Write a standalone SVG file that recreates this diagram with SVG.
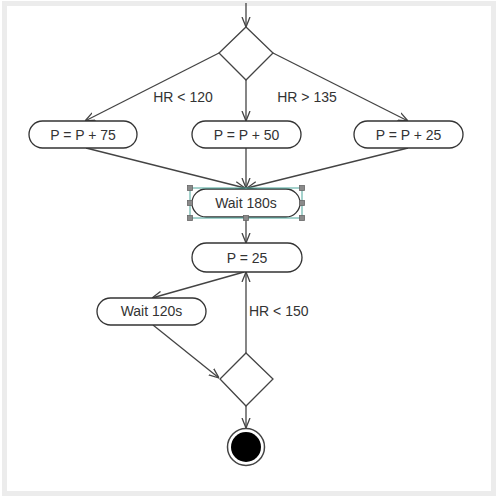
<svg xmlns="http://www.w3.org/2000/svg" width="500" height="500" viewBox="0 0 500 500">
<defs>
<style>
.box{fill:#fff;stroke:#333;stroke-width:1.3}
.dia{fill:#fff;stroke:#444;stroke-width:1.3}
.lbl{font-family:"Liberation Sans",Arial,sans-serif;font-size:14px;fill:#333;text-anchor:middle}
.edge{fill:none;stroke:#444;stroke-width:1.3;marker-end:url(#arr)}
.h{fill:#8a8a8a;stroke:#666;stroke-width:0.8}
</style>
<marker id="arr" viewBox="0 0 10 10" refX="10" refY="5" markerWidth="10" markerHeight="10" markerUnits="userSpaceOnUse" orient="auto">
<path d="M0,1 L10,5 L0,9" fill="none" stroke="#444" stroke-width="1.3"/>
</marker>
</defs>
<rect x="0" y="0" width="500" height="500" fill="#fff"/>
<rect x="4.5" y="3.5" width="489" height="490" fill="#fff" stroke="#ececec" stroke-width="5"/>

<g id="connectors">
<path class="edge" d="M246,3 L246,27"/>
<path class="edge" d="M219,53 L85,121"/>
<path class="edge" d="M246,80 L246,121"/>
<path class="edge" d="M273,53 L408,121"/>
<path class="edge" d="M86,148 L245,188"/>
<path class="edge" d="M246,148 L246,188"/>
<path class="edge" d="M408,148 L247,188"/>
<path class="edge" d="M246,218 L246,243"/>
<path class="edge" d="M244,272 L152,298"/>
<path class="edge" d="M153,325 L219,378"/>
<path class="edge" d="M246,353 L246,272"/>
<path class="edge" d="M246,406 L246,428"/>
<text class="lbl" x="183" y="102">HR &lt; 120</text>
<text class="lbl" x="307" y="102">HR &gt; 135</text>
<text class="lbl" x="249" y="316" style="text-anchor:start">HR &lt; 150</text>
</g>

<g id="decision1">
<polygon class="dia" points="246,27 273,53 246,80 219,53"/>
</g>
<g id="p75">
<rect class="box" x="29" y="121" width="108" height="27" rx="13.5"/>
<text class="lbl" x="83" y="139.5">P = P + 75</text>
</g>
<g id="p50">
<rect class="box" x="192" y="121" width="109" height="27" rx="13.5"/>
<text class="lbl" x="246.5" y="139.5">P = P + 50</text>
</g>
<g id="p25">
<rect class="box" x="354" y="121" width="109" height="27" rx="13.5"/>
<text class="lbl" x="408.5" y="139.5">P = P + 25</text>
</g>
<g id="wait180">
<rect class="box" x="192" y="189" width="108" height="28" rx="14"/>
<text class="lbl" x="246" y="208">Wait 180s</text>
<rect x="190" y="188" width="112" height="30" fill="none" stroke="#4aa59a" stroke-width="1"/>
<rect class="h" x="187.5" y="185.5" width="5" height="5"/>
<rect class="h" x="299.5" y="185.5" width="5" height="5"/>
<rect class="h" x="187.5" y="200.5" width="5" height="5"/>
<rect class="h" x="299.5" y="200.5" width="5" height="5"/>
<rect class="h" x="187.5" y="215.5" width="5" height="5"/>
<rect class="h" x="243.5" y="215.5" width="5" height="5"/>
<rect class="h" x="299.5" y="215.5" width="5" height="5"/>
</g>
<g id="p25set">
<rect class="box" x="192" y="243" width="110" height="29" rx="14.5"/>
<text class="lbl" x="247" y="262.5">P = 25</text>
</g>
<g id="wait120">
<rect class="box" x="97" y="298" width="109" height="27" rx="13.5"/>
<text class="lbl" x="151.5" y="316">Wait 120s</text>
</g>
<g id="decision2">
<polygon class="dia" points="246,353 273,379 246,406 220,379"/>
</g>
<g id="final">
<circle cx="246" cy="447" r="18.5" fill="#fff" stroke="#444" stroke-width="1.5"/>
<circle cx="246" cy="447" r="15" fill="#000"/>
</g>
</svg>
